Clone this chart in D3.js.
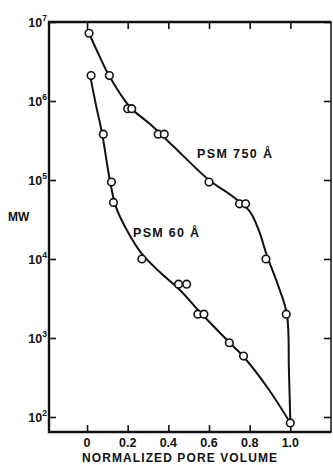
<!DOCTYPE html>
<html lang="en">
<head>
  <meta charset="UTF-8">
  <title>MW vs normalized pore volume</title>
  <style>
    body { margin: 0; background: #fff; }
    text { font-family: "Liberation Sans", Arial, sans-serif; font-weight: bold; fill: #111; }
  </style>
</head>
<body>
  <div id="graph-container"></div>
  <script src="https://d3js.org/d3.v7.min.js"></script>
  <script>
    // PSM 750 A column: measured points
    const psm750 = [
      { x: 0.01, y: 7.2e6 },
      { x: 0.11, y: 2.1e6 },
      { x: 0.20, y: 8.0e5 },
      { x: 0.22, y: 8.0e5 },
      { x: 0.35, y: 3.8e5 },
      { x: 0.38, y: 3.8e5 },
      { x: 0.60, y: 9.4e4 },
      { x: 0.75, y: 5.0e4 },
      { x: 0.78, y: 5.0e4 },
      { x: 0.88, y: 1.0e4 },
      { x: 0.98, y: 2.0e3 },
      { x: 1.00, y: 84 }
    ];
    // PSM 750 A: hand-drawn curve
    const psm750Curve = [
      { x: 0.01, y: 7.2e6 },
      { x: 0.059, y: 3.8e6 },
      { x: 0.108, y: 2.1e6 },
      { x: 0.211, y: 8.4e5 },
      { x: 0.31, y: 5.1e5 },
      { x: 0.423, y: 2.7e5 },
      { x: 0.60, y: 1.0e5 },
      { x: 0.72, y: 6.1e4 },
      { x: 0.80, y: 4.0e4 },
      { x: 0.845, y: 2.3e4 },
      { x: 0.885, y: 1.1e4 },
      { x: 0.939, y: 4.7e3 },
      { x: 0.983, y: 2.0e3 },
      { x: 0.993, y: 390 },
      { x: 1.00, y: 84 }
    ];
    // PSM 60 A column: measured points
    const psm60 = [
      { x: 0.02, y: 2.1e6 },
      { x: 0.08, y: 3.8e5 },
      { x: 0.12, y: 9.4e4 },
      { x: 0.13, y: 5.2e4 },
      { x: 0.27, y: 1.0e4 },
      { x: 0.45, y: 4.8e3 },
      { x: 0.49, y: 4.8e3 },
      { x: 0.545, y: 2.0e3 },
      { x: 0.575, y: 2.0e3 },
      { x: 0.70, y: 870 },
      { x: 0.77, y: 590 }
    ];
    // PSM 60 A: hand-drawn curve
    const psm60Curve = [
      { x: 0.015, y: 2.1e6 },
      { x: 0.044, y: 8.9e5 },
      { x: 0.074, y: 3.9e5 },
      { x: 0.113, y: 9.7e4 },
      { x: 0.143, y: 4.5e4 },
      { x: 0.201, y: 2.2e4 },
      { x: 0.27, y: 1.16e4 },
      { x: 0.359, y: 6.8e3 },
      { x: 0.457, y: 4.05e3 },
      { x: 0.555, y: 2.13e3 },
      { x: 0.698, y: 890 },
      { x: 0.767, y: 592 },
      { x: 0.889, y: 233 },
      { x: 1.00, y: 84 }
    ];
    const xTicks = [0, 0.2, 0.4, 0.6, 0.8, 1.0];
    const xTickLabels = ["0", "0.2", "0.4", "0.6", "0.8", "1.0"];
    const yTicks = [1e2, 1e3, 1e4, 1e5, 1e6, 1e7];
    const yExponents = ["2", "3", "4", "5", "6", "7"];

    const W = 333, H = 465;
    const svg = d3.select("#graph-container")
      .append("svg")
        .attr("width", W)
        .attr("height", H);

    const x = d3.scaleLinear()
      .domain([-0.187, 1.2])
      .range([49, 331]);
    const y = d3.scaleLog()
      .domain([Math.pow(10, 1.81), 1e7])
      .range([432, 22]);

    // frame
    svg.append("rect")
      .attr("x", 49).attr("y", 22)
      .attr("width", 282).attr("height", 410)
      .attr("fill", "none")
      .attr("stroke", "#111")
      .attr("stroke-width", 1.5);
    // heavier left, top and bottom lines
    svg.append("path")
      .attr("d", "M331,22H49V432H331")
      .attr("fill", "none")
      .attr("stroke", "#111")
      .attr("stroke-width", 2.4);

    // ticks: all pointing inward
    const axStyle = g => {
      g.select(".domain").remove();
      g.selectAll(".tick line").attr("stroke", "#111").attr("stroke-width", 1.6);
      g.selectAll(".tick text").remove();
    };
    svg.append("g").attr("transform", "translate(0,432)")
      .call(d3.axisBottom(x).tickValues(xTicks).tickSize(-7)).call(axStyle);
    svg.append("g").attr("transform", "translate(0,22)")
      .call(d3.axisTop(x).tickValues(xTicks).tickSize(-7)).call(axStyle);
    svg.append("g").attr("transform", "translate(49,0)")
      .call(d3.axisLeft(y).tickValues(yTicks).tickSize(-7)).call(axStyle);
    svg.append("g").attr("transform", "translate(331,0)")
      .call(d3.axisRight(y).tickValues(yTicks).tickSize(-7)).call(axStyle);

    // x tick labels
    svg.selectAll(".xlab")
      .data(xTicks)
      .enter()
      .append("text")
      .attr("class", "xlab")
      .attr("x", d => x(d))
      .attr("y", 447)
      .attr("text-anchor", "middle")
      .style("font-size", "12.5px")
      .text((d, i) => xTickLabels[i]);

    // y tick labels: 10 with superscript exponent
    const ylab = svg.selectAll(".ylab")
      .data(yTicks)
      .enter()
      .append("text")
      .attr("class", "ylab")
      .attr("x", 47)
      .attr("y", d => y(d) + 5)
      .attr("text-anchor", "end")
      .style("font-size", "12.5px");
    ylab.append("tspan").text("10");
    ylab.append("tspan")
      .attr("dy", -6)
      .style("font-size", "8.5px")
      .text((d, i) => yExponents[i]);

    // curves
    const line = d3.line()
      .x(d => x(d.x))
      .y(d => y(d.y))
      .curve(d3.curveCatmullRom.alpha(0.5));

    [psm750Curve, psm60Curve].forEach(set => {
      svg.append("path")
        .datum(set)
        .attr("d", line)
        .attr("fill", "none")
        .attr("stroke", "#111")
        .attr("stroke-width", 2);
    });

    // data points
    svg.selectAll(".data-point")
      .data(psm750.concat(psm60))
      .enter()
      .append("circle")
      .attr("class", "data-point")
      .attr("cx", d => x(d.x))
      .attr("cy", d => y(d.y))
      .attr("r", 3.8)
      .attr("fill", "#fff")
      .attr("stroke", "#111")
      .attr("stroke-width", 1.6);

    // labels
    svg.append("text")
      .attr("x", 197).attr("y", 158)
      .style("font-size", "12.5px")
      .attr("textLength", 75).attr("lengthAdjust", "spacing")
      .text("PSM 750 Å");
    svg.append("text")
      .attr("x", 133).attr("y", 237)
      .style("font-size", "12.5px")
      .attr("textLength", 66).attr("lengthAdjust", "spacing")
      .text("PSM 60 Å");
    svg.append("text")
      .attr("x", 8).attr("y", 221)
      .style("font-size", "12px")
      .text("MW");
    svg.append("text")
      .attr("x", 82).attr("y", 462)
      .style("font-size", "12px")
      .attr("textLength", 195).attr("lengthAdjust", "spacing")
      .text("NORMALIZED PORE VOLUME");
  </script>
</body>
</html>
